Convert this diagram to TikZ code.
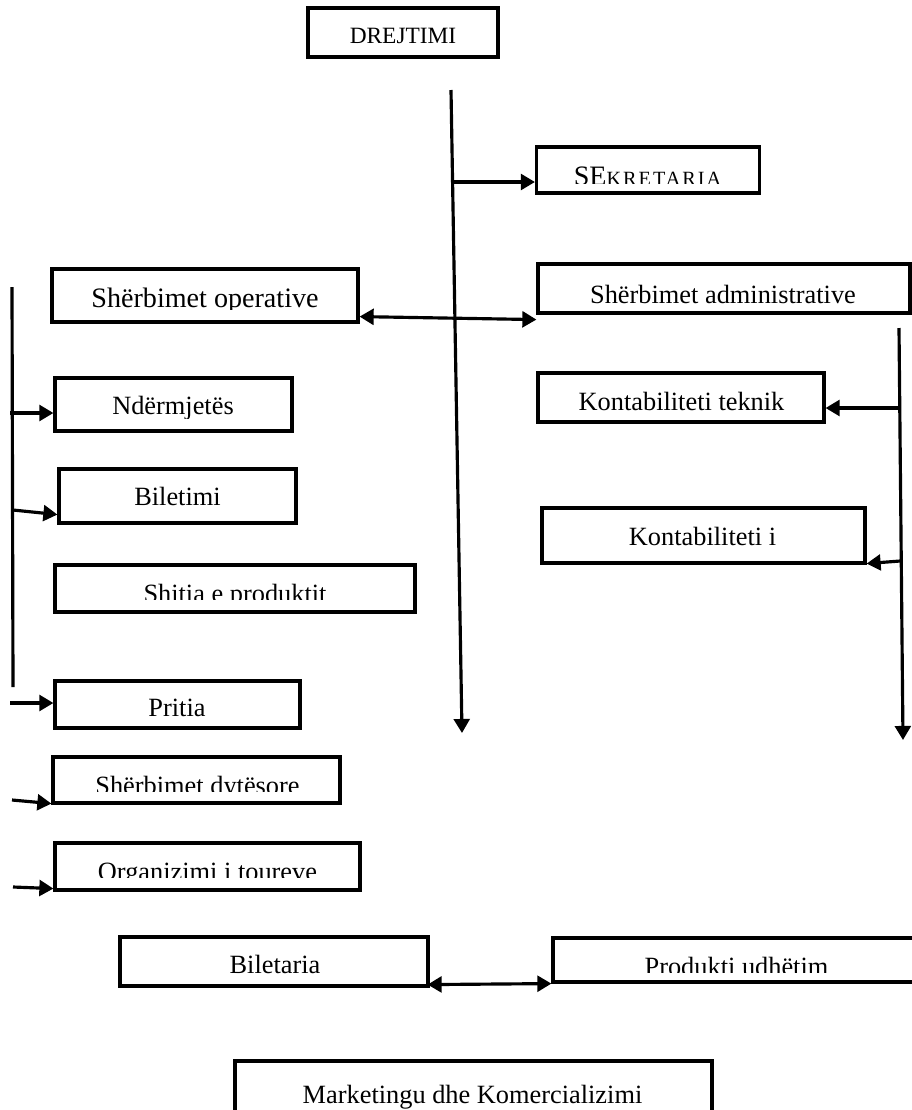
\documentclass[tikz,border=0pt]{standalone}
\usepackage{fontspec}
\setmainfont{Liberation Serif}
\usetikzlibrary{arrows.meta,calc}

\tikzset{
  box/.style={draw, line width=1.8pt, inner sep=0pt},
  sz/.style 2 args={minimum width=#1*0.02cm, minimum height=#2*0.02cm},
  lbl/.style={font=\fontsize{15}{18}\selectfont, anchor=base, inner sep=0pt},
  line/.style={line width=1.8pt},
  arr/.style={line width=1.8pt, -{Triangle[length=8pt,width=9pt]}},
  darr/.style={line width=1.8pt, {Triangle[length=8pt,width=9pt]}-{Triangle[length=8pt,width=9pt]}}
}

% text cut off at the lower edge: name, x, baseline, cut, text
\newcommand{\cutlabel}[5]{%
  \begin{scope}
    \clip (0,0) rectangle (912,#4);
    \node[lbl] (#1) at (#2,#3) {#5};
  \end{scope}}

\begin{document}
\begin{tikzpicture}[x=0.02cm, y=-0.02cm, line join=miter]
  \useasboundingbox (0,0) rectangle (912,1110);
  % boxes
  \node[box, sz={190}{49}] (drejt) at (403,32.5) {};
  \node[box, sz={223}{46}] (sekr) at (648,170) {};
  \node[box, sz={306}{53}] (oper) at (205,295.5) {};
  \node[box, sz={372}{49}] (admin) at (724,288.5) {};
  \node[box, sz={286}{49}] (kontek) at (681,397.5) {};
  \node[box, sz={323}{55}] (konti) at (703.5,535.5) {};
  \node[box, sz={237}{53}] (ndermj) at (173.5,404.5) {};
  \node[box, sz={237}{54}] (bilet) at (177.5,496) {};
  \node[box, sz={360}{47}] (shitia) at (235,588.5) {};
  \node[box, sz={245}{47}] (pritia) at (177.5,704.5) {};
  \node[box, sz={287}{46}] (dytes) at (196.5,780) {};
  \node[box, sz={305}{47}] (organ) at (207.5,866.5) {};
  \node[box, sz={308}{49}] (biletaria) at (274,961.5) {};
  \node[box, sz={367}{44}] (produkti) at (736.5,960) {};
  \node[box, sz={477}{64}] (market) at (473.5,1093) {};

  % texts
  \node[lbl, font=\fontsize{13.3}{16}\selectfont] (drejt-t) at (403,43) {DREJTIMI};
  \cutlabel{sekr-t}{647.5}{185}{183}{\fontsize{16}{19}\selectfont SE{\fontsize{11.5}{13}\selectfont\addfontfeature{LetterSpace=10}KRETARIA}}
  \cutlabel{oper-t}{205}{307}{309}{\fontsize{16}{19}\selectfont Shërbimet operative}
  \node[lbl] (admin-t) at (723,303) {Shërbimet administrative};
  \node[lbl] (kontek-t) at (681.5,410) {Kontabiliteti teknik};
  \node[lbl] (konti-t) at (702.5,545) {Kontabiliteti i};
  \cutlabel{ndermj-t}{173}{414}{418}{Ndërmjetës}
  \node[lbl] (bilet-t) at (177.5,505) {Biletimi};
  \cutlabel{shitia-t}{235}{602.5}{599}{Shitia e produktit}
  \node[lbl] (pritia-t) at (177,716) {Pritia};
  \cutlabel{dytes-t}{197.5}{794.5}{791}{Shërbimet dytësore}
  \cutlabel{organ-t}{207.5}{880.5}{877}{Organizimi i toureve}
  \node[lbl] (biletaria-t) at (275,973) {Biletaria};
  \cutlabel{produkti-t}{736.5}{975.5}{972}{Produkti udhëtim}
  \node[lbl] (market-t) at (472.5,1103) {Marketingu dhe Komercializimi};

  % main line
  \coordinate (mtop) at (451,90);
  \coordinate (mbot) at (462,733);
  \draw[arr] (mtop) -- (mbot);
  \coordinate (s1) at (452,182);
  \draw[arr] (s1) -- (s1 -| sekr.west);
  \draw[darr] ($(oper.south east)+(0,-7)$) -- ($(admin.south west)+(0,5)$);

  % right line
  \coordinate (rtop) at (899,328);
  \coordinate (rbot) at (903,740);
  \draw[arr] (rtop) -- (rbot);
  \coordinate (r1) at (899,408);
  \draw[arr] (r1) -- (r1 -| kontek.east);
  \coordinate (r2) at (900,561);
  \draw[arr] (r2) -- ($(konti.south east)+(0,-1)$);

  % left line
  \coordinate (ltop) at (12,287);
  \coordinate (lbot) at (13,687);
  \draw[line] (ltop) -- (lbot);
  \coordinate (l1) at (10,413);
  \draw[arr] (l1) -- (l1 -| ndermj.west);
  \coordinate (l2) at (13,510);
  \draw[arr] (l2) -- ($(bilet.south west)+(0,-10)$);
  \coordinate (l3) at (10,703);
  \draw[arr] (l3) -- (l3 -| pritia.west);
  \coordinate (l4) at (12,800);
  \draw[arr] (l4) -- ($(dytes.south west)+(0,-1)$);
  \coordinate (l5) at (13,887);
  \draw[arr] (l5) -- ($(organ.south west)+(0,-3)$);

  \draw[darr] ($(biletaria.south east)+(-2,-3)$) -- (produkti.south west);
\end{tikzpicture}
\end{document}
